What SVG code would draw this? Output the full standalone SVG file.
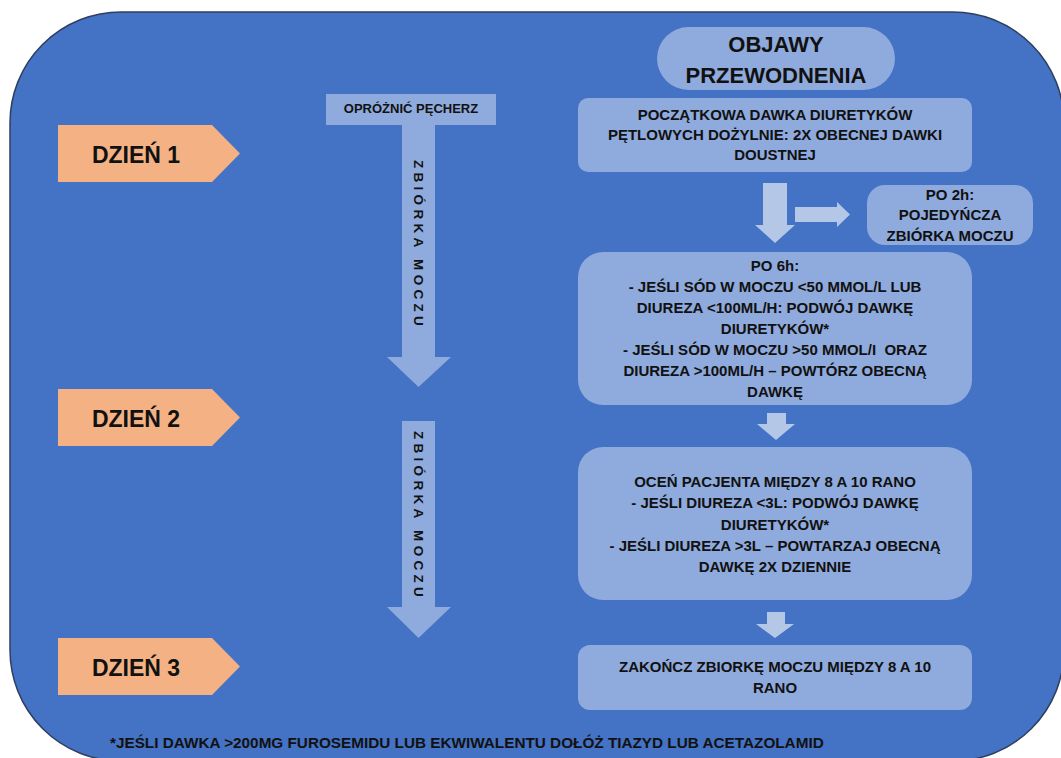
<svg xmlns="http://www.w3.org/2000/svg" width="1061" height="758" viewBox="0 0 1061 758">
<style>
text{font-family:"Liberation Sans",Arial,sans-serif;fill:#111;}
.b{font-weight:bold;text-anchor:middle;}
.t15{font-size:15px;}
.day{font-size:23px;font-weight:bold;text-anchor:middle;}
.box{fill:#8FAADC;}
.day-shape{fill:#F4B183;}
.arr-l{fill:#8FAADC;}
.arr-r{fill:#B4C7E7;}
.vert{font-size:13.5px;font-weight:bold;letter-spacing:4.3px;text-anchor:middle;dominant-baseline:central;}
</style>
<rect id="background" x="10" y="12" width="1054" height="749" rx="111" ry="111" fill="#4472C4" stroke="#2F3F5F" stroke-width="1.5"/>

<g id="day1">
<polygon class="day-shape" points="58,125 212,125 240,153.5 212,182 58,182"/>
<text class="day" x="136" y="163">DZIEŃ 1</text>
</g>
<g id="day2">
<polygon class="day-shape" points="58,389 212,389 240,417.5 212,446 58,446"/>
<text class="day" x="136" y="427">DZIEŃ 2</text>
</g>
<g id="day3">
<polygon class="day-shape" points="58,638 212,638 240,666.5 212,695 58,695"/>
<text class="day" x="136" y="676">DZIEŃ 3</text>
</g>

<g id="empty-bladder">
<rect class="box" x="326" y="94" width="170" height="31"/>
<text class="b" x="411" y="113" font-size="13">OPRÓŻNIĆ PĘCHERZ</text>
</g>

<g id="title">
<rect class="box" x="657" y="27" width="238" height="63" rx="31.5"/>
<text class="b" x="776" y="52" font-size="22">OBJAWY</text>
<text class="b" x="776" y="83" font-size="22">PRZEWODNENIA</text>
</g>

<g id="box-initial">
<rect class="box" x="578" y="98" width="394" height="74" rx="10"/>
<text class="b t15" x="775" y="120">POCZĄTKOWA DAWKA DIURETYKÓW</text>
<text class="b t15" x="775" y="140">PĘTLOWYCH DOŻYLNIE: 2X OBECNEJ DAWKI</text>
<text class="b t15" x="775" y="160">DOUSTNEJ</text>
</g>

<g id="box-2h">
<rect class="box" x="867" y="185" width="166" height="60" rx="18"/>
<text class="b t15" x="950" y="200">PO 2h:</text>
<text class="b t15" x="950" y="220">POJEDYŃCZA</text>
<text class="b t15" x="950" y="241">ZBIÓRKA MOCZU</text>
</g>

<g id="box-6h">
<rect class="box" x="578" y="252" width="394" height="153" rx="25"/>
<text class="b t15" x="775" y="271">PO 6h:</text>
<text class="b t15" x="775" y="292">- JEŚLI SÓD W MOCZU &lt;50 MMOL/L LUB</text>
<text class="b t15" x="775" y="313">DIUREZA &lt;100ML/H: PODWÓJ DAWKĘ</text>
<text class="b t15" x="775" y="334">DIURETYKÓW*</text>
<text class="b t15" x="775" y="355" xml:space="preserve">- JEŚLI SÓD W MOCZU &gt;50 MMOL/I  ORAZ</text>
<text class="b t15" x="775" y="376">DIUREZA &gt;100ML/H – POWTÓRZ OBECNĄ</text>
<text class="b t15" x="775" y="397">DAWKĘ</text>
</g>

<g id="box-assess">
<rect class="box" x="578" y="447" width="394" height="153" rx="25"/>
<text class="b t15" x="775" y="487">OCEŃ PACJENTA MIĘDZY 8 A 10 RANO</text>
<text class="b t15" x="775" y="508">- JEŚLI DIUREZA &lt;3L: PODWÓJ DAWKĘ</text>
<text class="b t15" x="775" y="529.5">DIURETYKÓW*</text>
<text class="b t15" x="775" y="550.5">- JEŚLI DIUREZA &gt;3L – POWTARZAJ OBECNĄ</text>
<text class="b t15" x="775" y="572">DAWKĘ 2X DZIENNIE</text>
</g>

<g id="box-end">
<rect class="box" x="578" y="645" width="394" height="65" rx="12"/>
<text class="b t15" x="775" y="672">ZAKOŃCZ ZBIORKĘ MOCZU MIĘDZY 8 A 10</text>
<text class="b t15" x="775" y="693">RANO</text>
</g>

<g id="connectors">
<g id="collect-arrow-1">
<polygon class="arr-l" points="402,125 435,125 435,357 451,357 418.5,387 387,357 402,357"/>
<text class="vert" transform="translate(418.5,245) rotate(90)">ZBIÓRKA MOCZU</text>
</g>
<g id="collect-arrow-2">
<polygon class="arr-l" points="402,421 435,421 435,607 451,607 418.5,638 387,607 402,607"/>
<text class="vert" transform="translate(418.5,516) rotate(90)">ZBIÓRKA MOCZU</text>
</g>
<polygon class="arr-r" points="763,183 787,183 787,225 795,225 775,243 755,225 763,225"/>
<polygon class="arr-r" points="795,207 837,207 837,202 850,214.5 837,227 837,222 795,222"/>
<polygon class="arr-r" points="767,413 786,413 786,424 795,424 776,440 757,424 767,424"/>
<polygon class="arr-r" points="767,612 785,612 785,624 794,624 775,638 756,624 767,624"/>
</g>

<g id="footnote">
<text x="110" y="748" font-size="15.3" font-weight="bold">*JEŚLI DAWKA &gt;200MG FUROSEMIDU LUB EKWIWALENTU DOŁÓŻ TIAZYD LUB ACETAZOLAMID</text>
</g>
</svg>
